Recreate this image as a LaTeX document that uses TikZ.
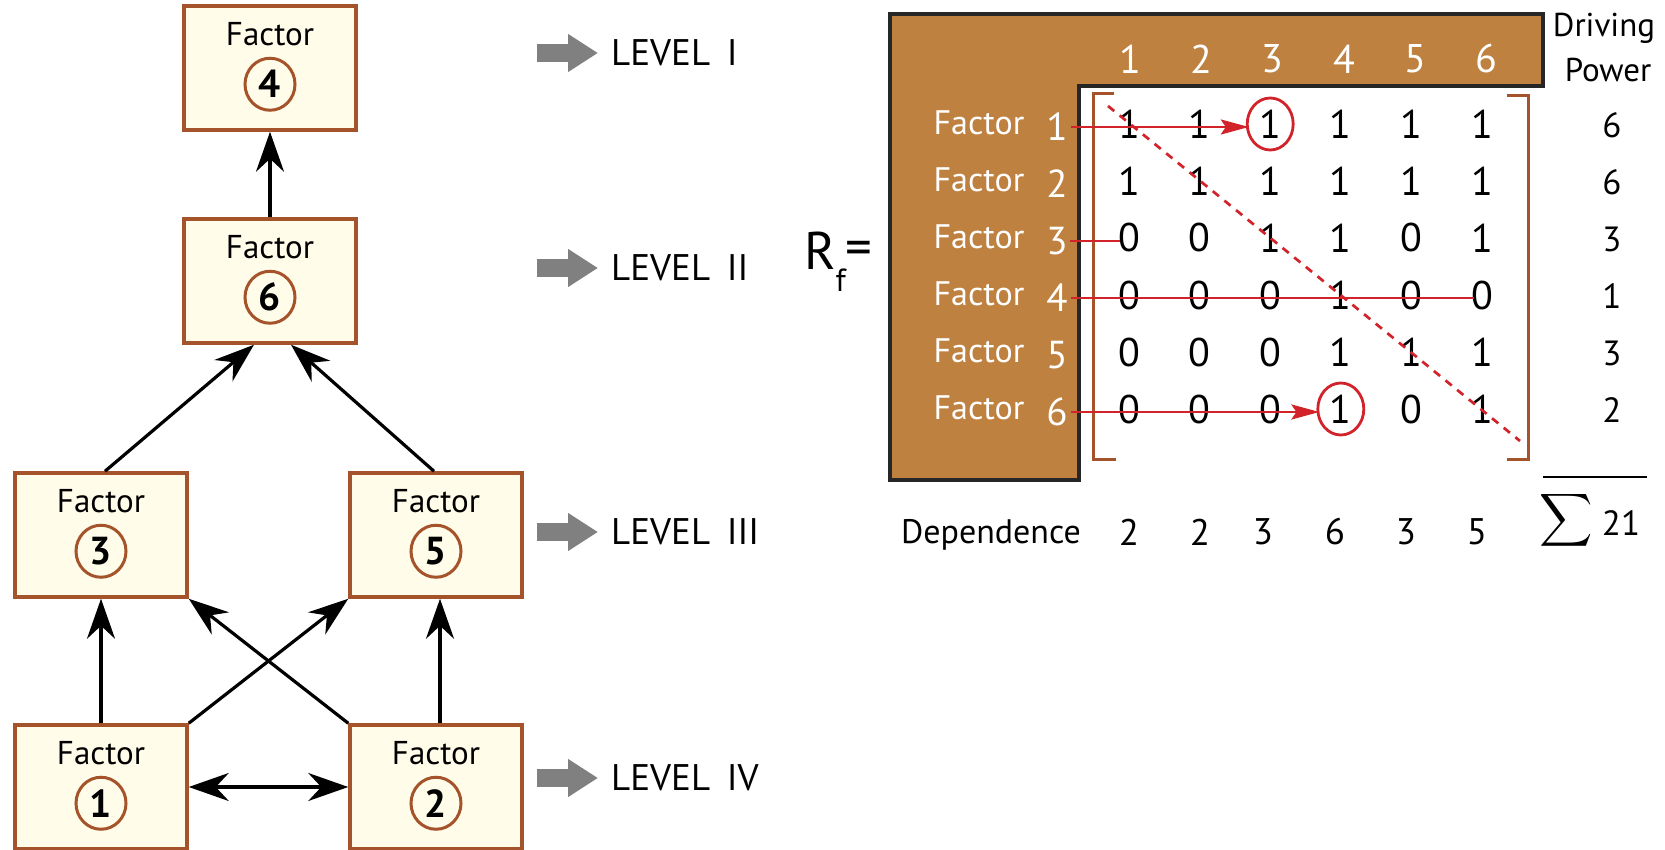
\documentclass[tikz,border=0pt]{standalone}
\usepackage{graphicx}
\usepackage{fontspec}
\setmainfont{PT Sans}
\usetikzlibrary{arrows.meta,shapes.geometric}
\definecolor{boxbrown}{HTML}{A5532B}
\definecolor{boxfill}{HTML}{FFFCE9}
\definecolor{mbrown}{HTML}{BE8140}
\definecolor{redc}{HTML}{D2232A}
\definecolor{arrgray}{HTML}{808080}
\tikzset{
  fbox/.style={draw=boxbrown, line width=3.5pt, fill=boxfill, minimum width=172pt, minimum height=124pt, inner sep=0pt},
  ftxt/.style={font=\fontsize{33}{38}\selectfont, inner sep=0pt},
  fcirc/.style={draw=boxbrown, line width=3pt, ellipse, minimum width=50pt, minimum height=52pt, inner sep=0pt, font=\bfseries\fontsize{39}{42}\selectfont},
  arr/.style={line width=3.2pt, -{Stealth[length=40pt,width=28pt,inset=13pt]}},
  darr/.style={line width=3.2pt, {Stealth[length=40pt,width=28pt,inset=13pt]}-{Stealth[length=40pt,width=28pt,inset=13pt]}},
  leveltxt/.style={font=\fontsize{37}{40}\selectfont, inner sep=0pt, anchor=west},
  levelarr/.style={draw=arrgray, line width=18pt, -{Triangle[length=30pt,width=36pt]}},
  mnum/.style={font=\fontsize{40}{42}\selectfont, inner sep=0pt},
  dpnum/.style={font=\fontsize{35}{38}\selectfont, inner sep=0pt},
  depnum/.style={font=\fontsize{37}{40}\selectfont, inner sep=0pt},
  hnum/.style={font=\fontsize{40}{42}\selectfont, inner sep=0pt, text=white},
  rlab/.style={font=\fontsize{34}{38}\selectfont, inner sep=0pt, text=white},
  rdig/.style={font=\fontsize{39}{42}\selectfont, inner sep=0pt, text=white},
  blabel/.style={font=\fontsize{33}{38}\selectfont, inner sep=0pt},
  bracket/.style={draw=boxbrown, line width=3pt},
  redline/.style={draw=redc, line width=2.8pt},
  redarr/.style={redline, -{Stealth[length=28pt,width=15pt,inset=5pt]}},
  redcirc/.style={draw=redc, line width=2.8pt, ellipse, minimum width=46pt, minimum height=52pt, inner sep=0pt},
}
\newcommand{\factorbox}[3]{%
  \node[fbox] (#1) at #2 {};
  \node[ftxt] (#1t) at ([yshift=-30pt]#1.north) {Factor};
  \node[fcirc] (#1c) at ([yshift=-80pt]#1.north) {#3};
}
\begin{document}
\begin{tikzpicture}[x=1pt,y=-1pt]
\useasboundingbox (0,0) rectangle (1665,850);
\fill[white] (0,0) rectangle (1665,850);

% ---- factor boxes ----
\factorbox{b4}{(270,68)}{4}
\factorbox{b6}{(270,281)}{6}
\factorbox{b3}{(101,535)}{3}
\factorbox{b5}{(436,535)}{5}
\factorbox{b1}{(101,787)}{1}
\factorbox{b2}{(436,787)}{2}

\draw[arr] (b6.north) -- (b4.south);
\draw[arr] ([xshift=4pt]b3.north) -- ([xshift=-16pt]b6.south);
\draw[arr] ([xshift=-2pt]b5.north) -- ([xshift=21pt]b6.south);
\draw[arr] (b1.north) -- (b3.south);
\draw[arr] ([xshift=4pt]b2.north) -- ([xshift=4pt]b5.south);
\draw[arr] (b1.north east) -- (b5.south west);
\draw[arr] (b2.north west) -- (b3.south east);
\draw[darr] (b1.east) -- (b2.west);

% ---- levels ----
\foreach \nm/\yy/\lv in {L1/53/I, L2/268/II, L3/532/III, L4/778/IV} {
  \node[leveltxt] (\nm) at (611,\yy) {LEVEL\hspace{0.45em}\lv};
  \draw[levelarr] ([xshift=-74pt]\nm.west) -- ([xshift=-13pt]\nm.west);
}

% ---- matrix frame ----
\draw[line width=3.5pt, fill=mbrown, draw=black!85] (890,14) -- (1543,14) -- (1543,86) -- (1079,86) -- (1079,480) -- (890,480) -- cycle;

\foreach \c in {1,...,6} {
  \node[hnum] (h\c) at ({1130+71.3*(\c-1)},59) {\c};
}
\foreach \r in {1,...,6} {
  \node[rlab] (rf\r) at (979,{123+57*(\r-1)}) {Factor};
  \node[rdig] (rd\r) at (1057,{127+57*(\r-1)}) {\r};
}
\foreach \rowv [count=\r] in {{1,1,1,1,1,1},{1,1,1,1,1,1},{0,0,1,1,0,1},{0,0,0,1,0,0},{0,0,0,1,1,1},{0,0,0,1,0,1}} {
  \foreach \v [count=\c] in \rowv {
    \node[mnum] (m\r\c) at ({1129+70.6*(\c-1)},{124+57*(\r-1)}) {\v};
  }
}

% brackets
\draw[bracket] (1114,94) -- (1093,94) -- (1093,459) -- (1116,459);
\draw[bracket] (1507,96) -- (1528,96) -- (1528,459) -- (1507,459);

% dashed diagonal
\coordinate (dg1) at (1108,106);
\coordinate (dg2) at (1520,441);
\draw[draw=redc, line width=2.7pt, dash pattern=on 8pt off 7pt] (dg1) -- (dg2);

% red circles and lines
\node[redcirc] (c13) at (m13) {};
\node[redcirc] (c64) at (m64) {};
\draw[redarr] ([xshift=3pt]rd1.east) -- ([xshift=3pt]rd1.east -| c13.west);
\draw[redline] ([xshift=2pt]rd3.east) -- ([xshift=2pt]rd3.east -| m31.west);
\draw[redline] ([xshift=3pt]rd4.east) -- ([xshift=3pt]rd4.east -| m46.west);
\draw[redarr] ([xshift=3pt]rd6.east) -- ([xshift=3pt]rd6.east -| c64.west);

% driving power
\node[blabel] (dp1) at (1604,28) {Driving};
\node[blabel] (dp2) at (1608,70) {Power};
\foreach \v [count=\r] in {6,6,3,1,3,2} {
  \node[dpnum] (dpv\r) at (1612,{125+57*(\r-1)}) {\v};
}
\coordinate (sl1) at (1543,477);
\coordinate (sl2) at (1647,477);
\draw[line width=2.5pt] (sl1) -- (sl2);
\node[inner sep=0pt] (sum) at (1566,520) {\scalebox{3.7}{$\displaystyle\sum$}};
\node[dpnum] (tot) at (1621,523) {21};

% dependence
\node[blabel, font=\fontsize{34}{38}\selectfont] (dep) at (991,535) {Dependence};
\foreach \v/\xx [count=\c] in {2/1129,2/1200,3/1263,6/1335,3/1406,5/1477} {
  \node[depnum] (dv\c) at (\xx,532) {\v};
}

% R_f =
\node[font=\fontsize{53}{56}\selectfont, inner sep=0pt, anchor=west] (rfeq) at (804,262) {R\raisebox{-0.42em}{\fontsize{32}{32}\selectfont f}\raisebox{0.08em}{=}};
\end{tikzpicture}
\end{document}
